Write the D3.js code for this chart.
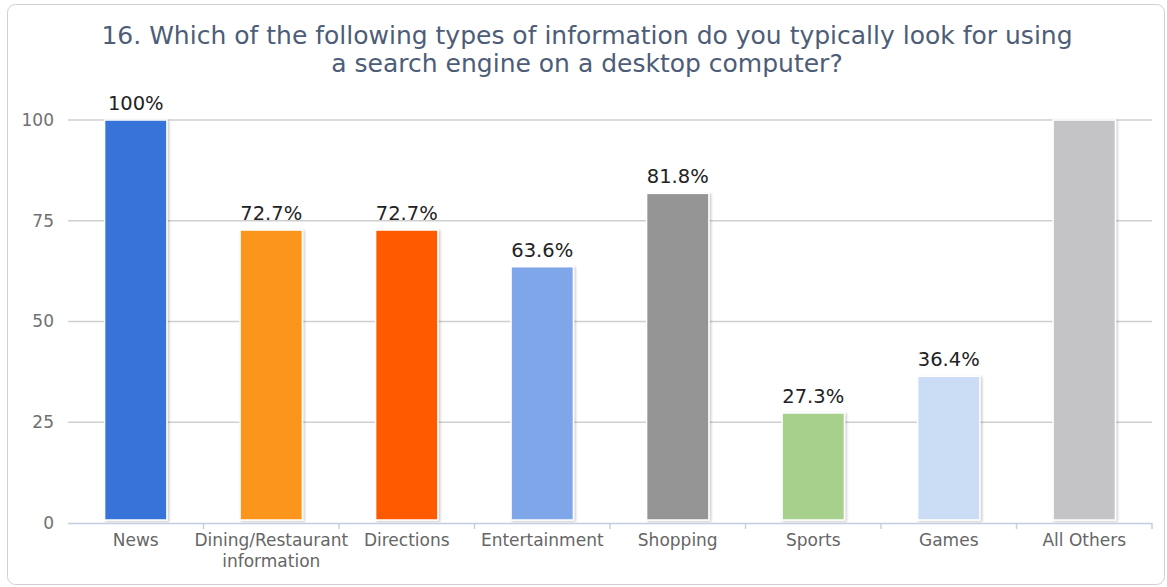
<!DOCTYPE html>
<html>
<head>
<meta charset="utf-8">
<script src="https://cdn.jsdelivr.net/npm/d3@7/dist/d3.min.js"></script>
<style>
  html, body { margin: 0; padding: 0; background: #fff; }
  svg { display: block; font-family: "DejaVu Sans", sans-serif; }
</style>
</head>
<body>
<svg id="chart" width="1167" height="587"></svg>
<script>
// Survey answers: share of respondents per information type
const categories = ["News", "Dining/Restaurant information", "Directions", "Entertainment", "Shopping", "Sports", "Games", "All Others"];
const values = [100, 72.7, 72.7, 63.6, 81.8, 27.3, 36.4, 100];
const valueLabels = ["100%", "72.7%", "72.7%", "63.6%", "81.8%", "27.3%", "36.4%", ""];
const colors = ["#3873d9", "#fb951f", "#ff5a00", "#7ea6e8", "#959595", "#a6d08c", "#cbdcf5", "#c4c4c6"];
const yTicks = [0, 25, 50, 75, 100];
const titleLines = ["16. Which of the following types of information do you typically look for using", "a search engine on a desktop computer?"];

const svg = d3.select("#chart");
const plot = { left: 68, right: 1152, top: 120, bottom: 523 };

// Drop shadow for the bars
const defs = svg.append("defs");
const f = defs.append("filter").attr("id", "shadow").attr("x", "-20%").attr("y", "-5%").attr("width", "140%").attr("height", "110%");
f.append("feDropShadow").attr("dx", 1.5).attr("dy", 1).attr("stdDeviation", 1.2).attr("flood-color", "#000").attr("flood-opacity", 0.22);

// Outer frame
svg.append("rect")
  .attr("x", 7.5).attr("y", 4.5).attr("width", 1157).attr("height", 580)
  .attr("rx", 8).attr("fill", "#fff").attr("stroke", "#d0d0d0").attr("stroke-width", 1);

// Title
svg.append("text")
  .attr("text-anchor", "middle").attr("fill", "#4d5d77").attr("font-size", 25)
  .selectAll("tspan").data(titleLines).join("tspan")
  .attr("x", 587).attr("y", (d, i) => 44 + i * 28).text(d => d);

const x = d3.scaleBand().domain(categories).range([plot.left, plot.right]).paddingInner(0.54).paddingOuter(0.27);
const y = d3.scaleLinear().domain([0, 100]).range([plot.bottom, plot.top]);

// Horizontal grid lines
svg.append("g").selectAll("line").data(yTicks.filter(t => t > 0)).join("line")
  .attr("x1", plot.left).attr("x2", plot.right)
  .attr("y1", d => y(d)).attr("y2", d => y(d))
  .attr("stroke", "#cfcfcf").attr("stroke-width", 1.5);

// Y axis labels
const yAxis = d3.axisLeft(y).tickValues(yTicks).tickSize(0).tickPadding(14);
const gy = svg.append("g").attr("transform", `translate(${plot.left},0)`).call(yAxis);
gy.select(".domain").remove();
gy.selectAll("text").attr("fill", "#707070").attr("font-size", 17).attr("font-family", "DejaVu Sans, sans-serif");

// Bars
svg.append("g").selectAll("rect").data(values).join("rect")
  .attr("x", (d, i) => x(categories[i]))
  .attr("width", x.bandwidth())
  .attr("y", d => y(d))
  .attr("height", d => y(0) - y(d) - 3)
  .attr("fill", (d, i) => colors[i])
  .attr("stroke", "#fff").attr("stroke-width", 1.5)
  .attr("filter", "url(#shadow)");

// Value labels
svg.append("g").selectAll("text").data(values).join("text")
  .attr("x", (d, i) => x(categories[i]) + x.bandwidth() / 2)
  .attr("y", d => y(d) - 10)
  .attr("text-anchor", "middle").attr("fill", "#222").attr("font-size", 19.5)
  .text((d, i) => valueLabels[i]);

// X axis with ticks at band boundaries
const xb = d3.scaleLinear().domain([0, categories.length]).range([plot.left, plot.right]);
const gx = svg.append("g");
gx.append("line").attr("x1", plot.left).attr("x2", plot.right)
  .attr("y1", plot.bottom + 0.5).attr("y2", plot.bottom + 0.5)
  .attr("stroke", "#c0d0e0").attr("stroke-width", 1.5);
gx.selectAll("line.tick").data(d3.range(1, categories.length + 1)).join("line")
  .attr("class", "tick")
  .attr("x1", d => xb(d)).attr("x2", d => xb(d))
  .attr("y1", plot.bottom).attr("y2", plot.bottom + 6)
  .attr("stroke", "#c0d0e0").attr("stroke-width", 1.5);

// Category labels (wrapped where needed)
const labelLines = c => c === "Dining/Restaurant information" ? ["Dining/Restaurant", "information"] : [c];
gx.selectAll("text").data(categories).join("text")
  .attr("text-anchor", "middle").attr("fill", "#666").attr("font-size", 17)
  .each(function (c) {
    d3.select(this).selectAll("tspan").data(labelLines(c)).join("tspan")
      .attr("x", x(c) + x.bandwidth() / 2)
      .attr("y", (d, i) => 546 + i * 21)
      .text(d => d);
  });
</script>
</body>
</html>
